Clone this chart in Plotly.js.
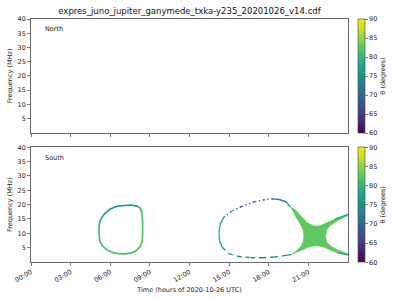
<!DOCTYPE html>
<html>
<head>
<meta charset="utf-8">
<script src="https://cdn.plot.ly/plotly-3.0.1.min.js"></script>
<style>html,body{margin:0;padding:0;background:#fff;}#chart{width:400px;height:300px;}</style>
</head>
<body>
<div id="chart"></div>
<script>
// ---- data (hours of day, MHz, theta in degrees) ----
const tickHours = [0, 3, 6, 9, 12, 15, 18, 21];
const tickLabels = ["00:00", "03:00", "06:00", "09:00", "12:00", "15:00", "18:00", "21:00"];
const freqTicks = [5, 10, 15, 20, 25, 30, 35, 40];
const thetaTicks = [60, 65, 70, 75, 80, 85, 90];

// North hemisphere: no emission in this file (one empty sample)
const northT = [null];
const northF = [null];
const northTheta = [null];

// South: first loop (about 05:00 - 08:30)
const loop1T = [7.6, 7.0, 6.4, 5.9, 5.5, 5.25, 5.15, 5.15, 5.2, 5.4, 5.75, 6.2, 6.6, 7.1, 7.55, 7.9, 8.25, 8.42, 8.45, 8.45, 8.4, 8.3, 8.05, 7.6];
const loop1F = [19.8, 19.7, 19.3, 18.2, 16.5, 14.5, 12.5, 10.0, 7.5, 5.6, 4.2, 3.3, 2.9, 2.85, 3.1, 3.7, 5.3, 7.0, 9.5, 14.0, 17.0, 18.6, 19.5, 19.8];
const loop1Theta = [76, 76, 75, 76, 78, 80, 81, 81, 81, 81, 81, 81, 81, 81, 81, 81, 82, 82, 82, 82, 81, 80, 78, 76];

// South: second loop (about 14:15 - 19:40)
const loop2T = [19.6, 19.3, 18.8, 18.3, 17.65, 16.9, 15.9, 15.15, 14.6, 14.35, 14.25, 14.25, 14.3, 14.5, 15.0, 15.65, 16.65, 17.5, 18.4, 19.3, 19.7];
const loop2F = [19.4, 21.0, 21.8, 22.0, 21.7, 21.0, 19.3, 17.6, 15.6, 13.5, 11.0, 8.5, 7.0, 5.0, 2.9, 1.95, 1.5, 1.5, 1.7, 2.3, 2.6];
const loop2Theta = [78, 75, 73, 72, 71, 68, 66, 70, 75, 79, 81, 81, 80, 77, 76, 75, 74, 74, 76, 77, 79];

// South: filled star-shaped region (about 19:35 - 24:00)
const starT = [19.6, 20.0, 20.5, 20.9, 21.3, 21.6, 21.9, 22.4, 23.0, 24.0, 24.0, 23.2, 22.7, 22.4, 22.3, 22.4, 22.8, 23.3, 24.0, 24.0, 23.2, 22.6, 22.1, 21.6, 21.1, 20.6, 20.1, 19.7, 20.0, 20.4, 20.6, 20.65, 20.6, 20.35, 19.95];
const starF = [19.4, 18.2, 15.8, 13.8, 12.8, 12.5, 12.7, 13.7, 15.0, 16.6, 16.1, 14.4, 12.8, 11.3, 9.0, 6.8, 5.2, 4.0, 2.9, 2.5, 3.1, 4.3, 5.3, 5.7, 5.3, 4.3, 3.2, 2.6, 3.6, 5.2, 7.0, 9.0, 11.2, 13.5, 16.5];
const starTheta = 82.5;
// thin edges of the star's two right arms
const armUpT = [23.0, 23.5, 24.0];
const armUpF = [15.0, 15.8, 16.6];
const armUpTheta = [78, 76, 75];
const armLowT = [23.2, 23.6, 24.0];
const armLowF = [3.2, 2.8, 2.5];
const armLowTheta = [78, 76, 75];

// ---- styling helpers ----
const VIR = [[0.0,'#440154'],[0.1,'#482475'],[0.2,'#414487'],[0.3,'#355f8d'],[0.4,'#2a788e'],
             [0.5,'#21918c'],[0.6,'#22a884'],[0.7,'#44bf70'],[0.8,'#7ad151'],[0.9,'#bddf26'],[1.0,'#fde725']];
const TMIN = 60, TMAX = 90;
function hex2rgb(h){return [parseInt(h.slice(1,3),16),parseInt(h.slice(3,5),16),parseInt(h.slice(5,7),16)];}
function viridis(theta){
  let s = Math.max(0, Math.min(1, (theta - TMIN) / (TMAX - TMIN)));
  for (let i = 0; i < VIR.length - 1; i++) {
    const a = VIR[i], b = VIR[i+1];
    if (s <= b[0]) {
      const k = (s - a[0]) / (b[0] - a[0]);
      const ca = hex2rgb(a[1]), cb = hex2rgb(b[1]);
      const c = ca.map((v, j) => Math.round(v + k * (cb[j] - v)));
      return 'rgb(' + c.join(',') + ')';
    }
  }
  return VIR[VIR.length-1][1];
}

// dash style by segment index range (visual sampling gaps)
const loop2Dash = function(i){
  if (i >= 3 && i < 8) return '1.5px,2.5px';
  if (i >= 13 && i < 19) return '4px,4px';
  return 'solid';
};

const traces = [];
// top panel (empty, carries the colorbar)
traces.push({type:'scatter', mode:'markers', x:northT, y:northF, xaxis:'x', yaxis:'y',
  marker:{color:northTheta, coloraxis:'coloraxis', cmin:TMIN, cmax:TMAX, size:2},
  showlegend:false, hoverinfo:'skip'});

// star fill
traces.push({type:'scatter', mode:'lines', x:starT, y:starF, xaxis:'x2', yaxis:'y2',
  fill:'toself', fillcolor:viridis(starTheta), line:{width:0.5, color:viridis(starTheta)},
  showlegend:false, hoverinfo:'skip'});

function addSegments(T, F, TH, width, dashFn){
  for (let i = 0; i < T.length - 1; i++) {
    traces.push({type:'scatter', mode:'lines', x:[T[i], T[i+1]], y:[F[i], F[i+1]],
      xaxis:'x2', yaxis:'y2', showlegend:false, hoverinfo:'skip',
      line:{color:viridis((TH[i]+TH[i+1])/2), width:width, dash: dashFn ? dashFn(i) : 'solid'}});
  }
}
addSegments(loop1T, loop1F, loop1Theta, 1.7, null);
addSegments(loop2T, loop2F, loop2Theta, 1.4, loop2Dash);
addSegments(armUpT, armUpF, armUpTheta, 1.1, null);
addSegments(armLowT, armLowF, armLowTheta, 1.1, null);

// colour-mapped vertices (bind the south colorbar to the data)
traces.push({type:'scatter', mode:'markers', x:loop1T.concat(loop2T), y:loop1F.concat(loop2F),
  xaxis:'x2', yaxis:'y2', showlegend:false, hoverinfo:'skip',
  marker:{symbol:'square', size:1.2, color:loop1Theta.concat(loop2Theta), coloraxis:'coloraxis2'}});

const FONT = 'DejaVu Sans';
const tickFont = {family:FONT, size:6.5, color:'#222'};
const axisCommon = {
  showline:true, mirror:true, linecolor:'#444', linewidth:0.8,
  ticks:'outside', ticklen:3, tickwidth:0.7, tickcolor:'#444',
  showgrid:false, zeroline:false, tickfont:tickFont, fixedrange:true
};

function cbar(y, len){
  return {x:1.031, xanchor:'left', xpad:0, y:y, yanchor:'top', ypad:0, len:len, lenmode:'fraction',
    thickness:7, outlinewidth:0.6, outlinecolor:'#444',
    tickvals:thetaTicks, ticks:'outside', ticklen:3, tickwidth:0.7, tickcolor:'#444',
    tickfont:tickFont,
    title:{text:'θ (degrees)', side:'right', font:{family:FONT, size:6.5, color:'#222'}}};
}

const layout = {
  width:400, height:300,
  margin:{l:31, r:50, t:19, b:38, pad:0},
  paper_bgcolor:'#fff', plot_bgcolor:'#fff',
  font:{family:FONT, color:'#222'},
  title:{text:'expres_juno_jupiter_ganymede_txka-y235_20201026_v14.cdf',
    font:{family:FONT, size:8.5, color:'#111'}, x:0.5, xref:'paper', y:1-11/300, yref:'container', yanchor:'middle'},
  xaxis:Object.assign({}, axisCommon, {domain:[0,1], anchor:'y', range:[0,24],
    tickvals:tickHours, ticktext:tickLabels, showticklabels:false}),
  yaxis:Object.assign({}, axisCommon, {domain:[0.532,1], anchor:'x', range:[0,40], tickvals:freqTicks,
    title:{text:'Frequency (MHz)', font:{family:FONT, size:6.5, color:'#222'}, standoff:4}}),
  xaxis2:Object.assign({}, axisCommon, {domain:[0,1], anchor:'y2', range:[0,24],
    tickvals:tickHours, ticktext:tickLabels, tickangle:-30,
    title:{text:'Time (hours of 2020-10-26 UTC)', font:{family:FONT, size:6.5, color:'#222'}, standoff:4}}),
  yaxis2:Object.assign({}, axisCommon, {domain:[0,0.472], anchor:'x2', range:[0,40], tickvals:freqTicks,
    title:{text:'Frequency (MHz)', font:{family:FONT, size:6.5, color:'#222'}, standoff:4}}),
  coloraxis:{colorscale:'Viridis', cmin:TMIN, cmax:TMAX, showscale:true, colorbar:cbar(1, 0.469)},
  coloraxis2:{colorscale:'Viridis', cmin:TMIN, cmax:TMAX, showscale:true, colorbar:cbar(0.472, 0.472)},
  annotations:[
    {text:'North', xref:'x domain', yref:'y domain', x:0.037, y:0.91, xanchor:'left', yanchor:'middle',
      showarrow:false, font:{family:FONT, size:6.5, color:'#222'}},
    {text:'South', xref:'x2 domain', yref:'y2 domain', x:0.037, y:0.907, xanchor:'left', yanchor:'middle',
      showarrow:false, font:{family:FONT, size:6.5, color:'#222'}}
  ]
};

Plotly.newPlot('chart', traces, layout, {displayModeBar:false, staticPlot:true});
</script>
</body>
</html>
